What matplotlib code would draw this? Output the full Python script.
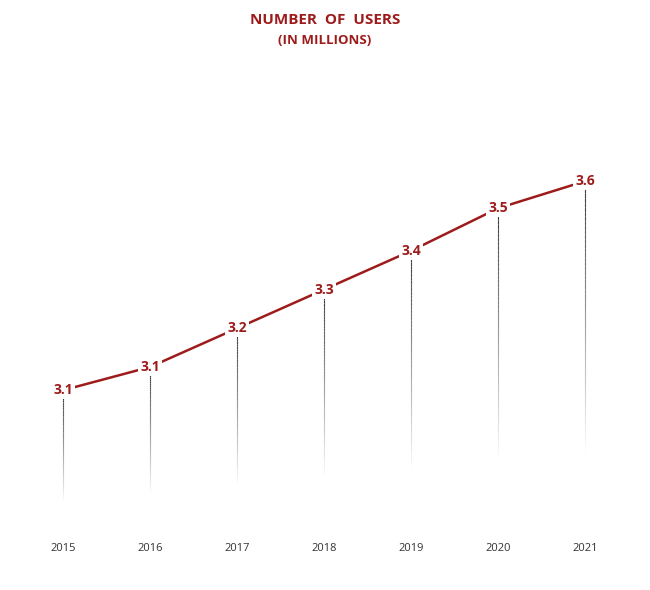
import numpy as np
import matplotlib.pyplot as plt
from matplotlib.collections import LineCollection

years = [2015, 2016, 2017, 2018, 2019, 2020, 2021]
users = [3.06, 3.12, 3.22, 3.32, 3.42, 3.53, 3.60]
labels = ['3.1', '3.1', '3.2', '3.3', '3.4', '3.5', '3.6']

red = '#9E1B1B'
plt.rcParams['font.family'] = 'Open Sans'

fig = plt.figure(figsize=(6.5, 5.9), dpi=100)
ax = fig.add_axes([0, 0, 1, 1])
ax.set_xlim(2014.276, 2021.747)
ax.set_ylim(2.544, 4.068)
ax.axis('off')

# fading drop lines
for i, (x, v) in enumerate(zip(years, users)):
    bottom = 2.77 + i * 0.02
    ys = np.linspace(v - 0.02, bottom, 60)
    segs = [[(x, ys[k]), (x, ys[k + 1])] for k in range(len(ys) - 1)]
    alphas = np.linspace(0.95, 0.0, len(segs))
    colors = [(0.2, 0.2, 0.2, a) for a in alphas]
    ax.add_collection(LineCollection(segs, colors=colors, linewidths=0.8))

ax.plot(years, users, color=red, linewidth=1.8, zorder=3)
for x, v, t in zip(years, users, labels):
    ax.text(x, v, t, ha='center', va='center', color=red,
            fontsize=10, fontweight='bold', zorder=4,
            bbox=dict(facecolor='white', edgecolor='none', pad=1.5))
    ax.text(x, 2.652, str(x), ha='center', va='center', fontsize=8, color='#333333')

fig.text(0.5, 1 - 20 / 590, 'NUMBER  OF  USERS', ha='center', va='center',
         color=red, fontsize=11, fontweight='bold')
fig.text(0.5, 1 - 41 / 590, '(IN MILLIONS)', ha='center', va='center',
         color=red, fontsize=9.5, fontweight='bold')

fig.savefig('out.png', dpi=100)
